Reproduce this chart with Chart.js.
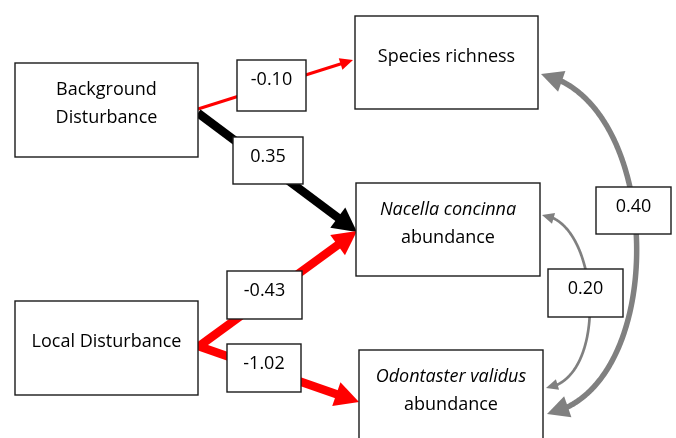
<!DOCTYPE html>
<html>
<head>
<meta charset="utf-8">
<script src="https://cdn.jsdelivr.net/npm/chart.js@4.4.1/dist/chart.umd.min.js"></script>
<style>
html, body { margin: 0; padding: 0; background: #fff; }
canvas { display: block; }
</style>
</head>
<body>
<canvas id="myChart" width="676" height="438"></canvas>
<script>
// variables of the path model
const nodeLines = [['Background', 'Disturbance'], ['Local Disturbance'], ['Species richness'],
                   ['Nacella concinna', 'abundance'], ['Odontaster validus', 'abundance']];
const italicFirst = [false, false, false, true, true];

// direct paths (from -> to) and their coefficients
const pathFrom = [0, 0, 1, 1];
const pathTo = [2, 3, 3, 4];
const pathCoef = [-0.10, 0.35, -0.43, -1.02];

// correlations (double headed)
const corrFrom = [2, 3];
const corrTo = [4, 4];
const corrCoef = [0.40, 0.20];

// layout, in axis units (axes run 0..676 and 0..438)
const nodeBox = [[15, 63, 198, 157], [15, 301, 198, 395], [355, 16, 538, 109], [356, 183, 540, 276], [359, 350, 543, 448]];
const pathStart = [[198, 109], [198, 113], [198, 347], [198, 346]];
const pathEnd = [[353, 60], [357, 232], [357, 231], [359, 402]];
const pathWidth = [3, 8.5, 8.5, 8.5];
const pathHead = [[13, 12], [24, 25], [24, 25], [24, 25]];
const pathLabelBox = [[237, 60, 306, 111], [233, 137, 303, 184], [227, 271, 302, 319], [227, 344, 301, 392]];
const corrCurve = [[[541, 74], [665, 100], [670, 390], [547, 414]],
                   [[542, 215], [600, 220], [610, 380], [546, 388]]];
const corrWidth = [5.5, 2.7];
const corrHead = [[22, 22], [12, 11]];
const corrLabelBox = [[596, 187, 671, 234], [548, 269, 623, 317]];

const FONT = '"Open Sans", "DejaVu Sans", sans-serif';

function unit(a, b) {
    const dx = b[0] - a[0], dy = b[1] - a[1];
    const d = Math.hypot(dx, dy);
    return [dx / d, dy / d];
}

// the straight paths are drawn by the library as two point lines
const datasets = pathCoef.map(function (c, i) {
    const s = pathStart[i], e = pathEnd[i];
    const u = unit(s, e);
    const cut = pathHead[i][0] * 0.7;
    return {
        data: [{x: s[0], y: s[1]}, {x: e[0] - u[0] * cut, y: e[1] - u[1] * cut}],
        showLine: true,
        borderColor: c < 0 ? '#ff0000' : '#000000',
        borderWidth: pathWidth[i],
        pointRadius: 0,
        order: 4 - i
    };
});

function bez(p, t) {
    const m = 1 - t;
    return [m*m*m*p[0][0] + 3*m*m*t*p[1][0] + 3*m*t*t*p[2][0] + t*t*t*p[3][0],
            m*m*m*p[0][1] + 3*m*m*t*p[1][1] + 3*m*t*t*p[2][1] + t*t*t*p[3][1]];
}

function head(ctx, tip, from, L, W, color) {
    const u = unit(from, tip);
    const bx = tip[0] - u[0] * L, by = tip[1] - u[1] * L;
    ctx.fillStyle = color;
    ctx.beginPath();
    ctx.moveTo(tip[0], tip[1]);
    ctx.lineTo(bx - u[1] * W / 2, by + u[0] * W / 2);
    ctx.lineTo(bx + u[1] * W / 2, by - u[0] * W / 2);
    ctx.closePath();
    ctx.fill();
}

const diagram = {
    id: 'diagram',
    afterDatasetsDraw(chart) {
        const {ctx, scales: {x, y}} = chart;
        const px = p => [x.getPixelForValue(p[0]), y.getPixelForValue(p[1])];
        ctx.save();

        // arrow heads of the paths
        pathCoef.forEach(function (c, i) {
            head(ctx, px(pathEnd[i]), px(pathStart[i]), pathHead[i][0], pathHead[i][1], c < 0 ? '#ff0000' : '#000000');
        });

        // curved correlation arrows
        corrCoef.forEach(function (c, i) {
            const pts = corrCurve[i].map(px);
            const L = corrHead[i][0];
            const n = 300;
            const samp = [];
            for (let k = 0; k <= n; k++) samp.push(bez(pts, k / n));
            let a = 0, b = n;
            while (Math.hypot(samp[a][0] - pts[0][0], samp[a][1] - pts[0][1]) < L * 0.7) a++;
            while (Math.hypot(samp[b][0] - pts[3][0], samp[b][1] - pts[3][1]) < L * 0.7) b--;
            ctx.strokeStyle = '#808080';
            ctx.lineWidth = corrWidth[i];
            ctx.beginPath();
            ctx.moveTo(samp[a][0], samp[a][1]);
            for (let k = a + 1; k <= b; k++) ctx.lineTo(samp[k][0], samp[k][1]);
            ctx.stroke();
            let da = 0, db = n;
            while (Math.hypot(samp[da][0] - pts[0][0], samp[da][1] - pts[0][1]) < L) da++;
            while (Math.hypot(samp[db][0] - pts[3][0], samp[db][1] - pts[3][1]) < L) db--;
            head(ctx, pts[0], samp[da], L, corrHead[i][1], '#808080');
            head(ctx, pts[3], samp[db], L, corrHead[i][1], '#808080');
        });

        function box(r) {
            const a = px([r[0], r[1]]), b = px([r[2], r[3]]);
            ctx.fillStyle = '#ffffff';
            ctx.fillRect(a[0], a[1], b[0] - a[0], b[1] - a[1]);
            ctx.strokeStyle = '#1a1a1a';
            ctx.lineWidth = 1.4;
            ctx.strokeRect(a[0], a[1], b[0] - a[0], b[1] - a[1]);
            return [a, b];
        }

        ctx.textAlign = 'center';
        ctx.textBaseline = 'middle';

        // coefficient labels
        const labels = pathLabelBox.map((r, i) => [r, pathCoef[i]]).concat(corrLabelBox.map((r, i) => [r, corrCoef[i]]));
        labels.forEach(function (l) {
            const [a, b] = box(l[0]);
            ctx.fillStyle = '#000';
            ctx.font = '18px ' + FONT;
            ctx.fillText(l[1].toFixed(2), (a[0] + b[0]) / 2, a[1] + 20);
        });

        // variable boxes
        nodeLines.forEach(function (lines, i) {
            const [a, b] = box(nodeBox[i]);
            const cx = (a[0] + b[0]) / 2;
            const mid = a[1] + 41;
            lines.forEach(function (t, j) {
                ctx.font = (j === 0 && italicFirst[i] ? 'italic ' : '') + '18px ' + FONT;
                ctx.fillStyle = '#000';
                ctx.fillText(t, cx, mid + (j - (lines.length - 1) / 2) * 27.3);
            });
        });
        ctx.restore();
    }
};

const myChart = new Chart(document.getElementById('myChart').getContext('2d'), {
    type: 'scatter',
    data: {datasets: datasets},
    options: {
        responsive: false,
        animation: false,
        layout: {padding: 0},
        scales: {
            x: {type: 'linear', min: 0, max: 676, display: false},
            y: {type: 'linear', min: 0, max: 438, reverse: true, display: false}
        },
        plugins: {legend: {display: false}, tooltip: {enabled: false}}
    },
    plugins: [diagram]
});
</script>
</body>
</html>
